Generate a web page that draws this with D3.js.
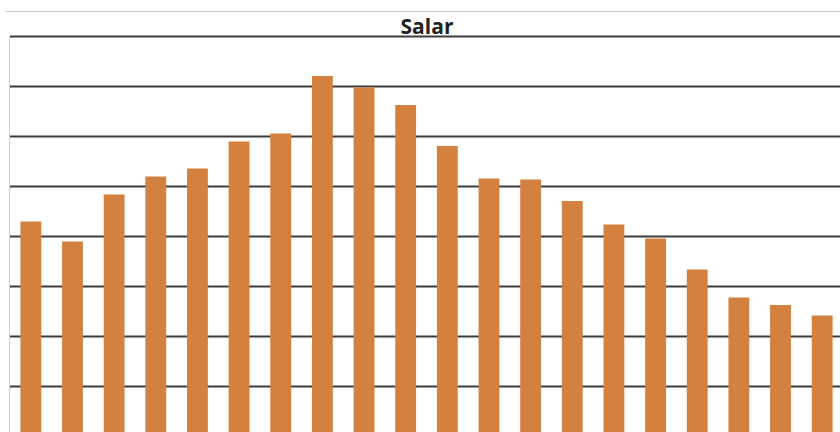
<!DOCTYPE html>
<html>
<head>
<meta charset="utf-8">
<script src="https://cdn.jsdelivr.net/npm/d3@7"></script>
<style>
  body { margin: 0; background: #fff; }
  svg { display: block; }
</style>
</head>
<body>
<div id="chart-area"></div>
<script>
// data (gridline step = 1000)
var categories = ["1","2","3","4","5","6","7","8","9","10","11","12","13","14","15","16","17","18","19","20"];
var values = [4290, 3890, 4830, 5190, 5350, 5890, 6050, 7200, 6970, 6620,
              5800, 5150, 5130, 4700, 4230, 3950, 3330, 2770, 2620, 2410];
var tickValues = [0, 1000, 2000, 3000, 4000, 5000, 6000, 7000, 8000];
var title = "Salar";

var width = 840;
var height = 432;
var plot = {left: 10, right: 843, top: 36, bottom: 436};

var svg = d3.select("#chart-area")
    .append("svg")
        .attr("width", width)
        .attr("height", height);

// chart border (top edge visible)
svg.append("line")
    .attr("x1", 6).attr("x2", width)
    .attr("y1", 11.5).attr("y2", 11.5)
    .attr("stroke", "#c6c6c6")
    .attr("stroke-width", 1);

var x = d3.scaleBand()
    .domain(categories)
    .range([plot.left, plot.right])
    .paddingInner(0.5)
    .paddingOuter(0.25);

var y = d3.scaleLinear()
    .domain([0, 8000])
    .range([plot.bottom, plot.top]);

// gridlines
var grid = d3.axisLeft(y)
    .tickValues(tickValues)
    .tickSize(-(plot.right - plot.left))
    .tickFormat("");

svg.append("g")
    .attr("class", "grid")
    .attr("transform", "translate(" + plot.left + ",0)")
    .call(grid)
    .call(function(g) {
        g.select(".domain").remove();
        g.selectAll(".tick line")
            .attr("stroke", "#3c3c3c")
            .attr("stroke-width", 2);
    });

// vertical axis line
svg.append("line")
    .attr("x1", plot.left - 0.5).attr("x2", plot.left - 0.5)
    .attr("y1", plot.top).attr("y2", plot.bottom)
    .attr("stroke", "#d0d0d0")
    .attr("stroke-width", 1);

// bars (category labels fall below the visible area, so none are drawn)
svg.selectAll("rect.bar")
    .data(values)
    .enter().append("rect")
        .attr("class", "bar")
        .attr("x", function(d, i) { return x(categories[i]); })
        .attr("y", function(d) { return y(d); })
        .attr("width", x.bandwidth())
        .attr("height", function(d) { return y(0) - y(d); })
        .attr("fill", "#d4803e");

// title
svg.append("text")
    .attr("x", 427)
    .attr("y", 34)
    .attr("text-anchor", "middle")
    .attr("font-family", "'Open Sans', sans-serif")
    .attr("font-weight", "bold")
    .attr("font-size", "21px")
    .attr("fill", "#222")
    .text(title);
</script>
</body>
</html>
